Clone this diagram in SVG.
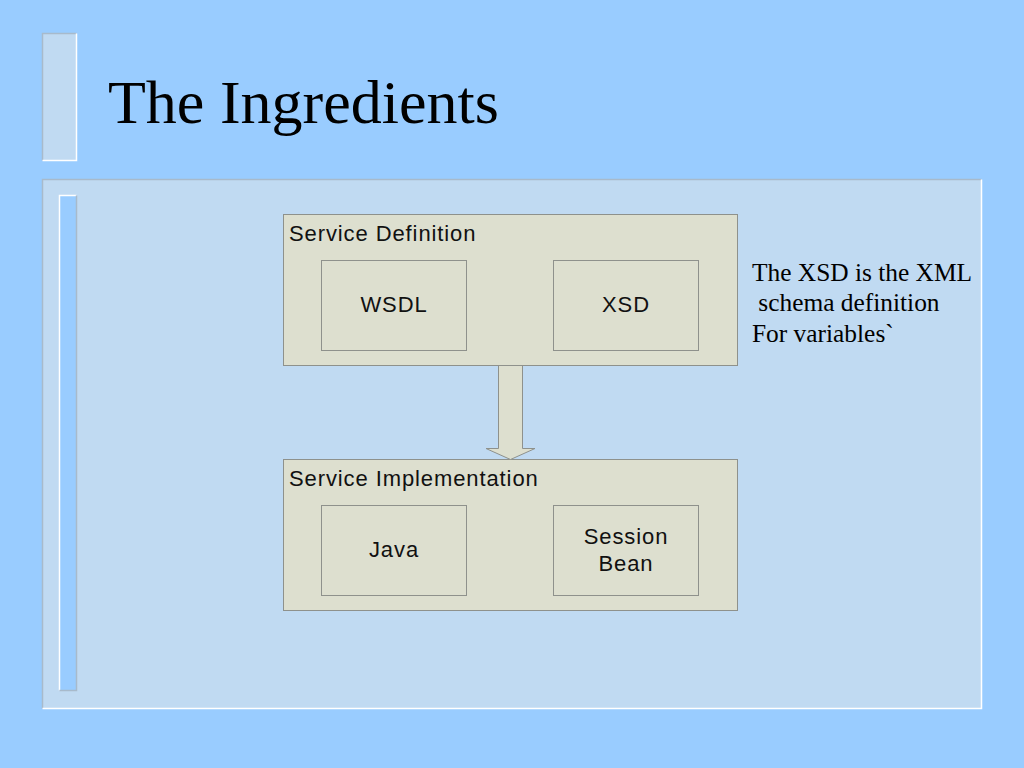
<svg xmlns="http://www.w3.org/2000/svg" width="1024" height="768" viewBox="0 0 1024 768">
  <style>
    .box { fill: #DDDFCF; stroke: #8E918C; stroke-width: 1; }
    .sans { font-family: "Liberation Sans", Arial, sans-serif; font-size: 22px; letter-spacing: 0.9px; fill: #111111; }
    .serif { font-family: "Liberation Serif", "Times New Roman", serif; fill: #000000; }
    .note { font-size: 25.4px; }
    .mid { text-anchor: middle; }
  </style>
  <rect x="0" y="0" width="1024" height="768" fill="#99CCFF"/>
  <!-- title bar decoration -->
  <rect x="42.5" y="33.5" width="34" height="127" fill="#C0DAF2"/>
  <polyline points="42.5,160.5 42.5,33.5 76.5,33.5" fill="none" stroke="#A8BACB" stroke-width="1.5"/>
  <polyline points="76.5,33.5 76.5,160.5 42.5,160.5" fill="none" stroke="#FFFFFF" stroke-width="1.5"/>
  <!-- main panel -->
  <rect x="42.5" y="179.5" width="939" height="529" fill="#C0DAF2"/>
  <polyline points="42.5,708.5 42.5,179.5 981.5,179.5" fill="none" stroke="#A8BACB" stroke-width="1.5"/>
  <polyline points="981.5,179.5 981.5,708.5 42.5,708.5" fill="none" stroke="#FFFFFF" stroke-width="1.5"/>
  <!-- inner bar -->
  <rect x="59.5" y="195.5" width="17" height="495" fill="#99CCFF"/>
  <polyline points="59.5,690.5 59.5,195.5 76.5,195.5" fill="none" stroke="#FFFFFF" stroke-width="1.5"/>
  <polyline points="76.5,195.5 76.5,690.5 59.5,690.5" fill="none" stroke="#A8BACB" stroke-width="1.5"/>

  <text x="108" y="123" class="serif" font-size="62">The Ingredients</text>

  <g id="service-definition">
    <rect class="box" x="283.5" y="214.5" width="454" height="151"/>
    <text class="sans" x="289" y="241">Service Definition</text>
  </g>
  <g id="wsdl">
    <rect class="box" x="321.5" y="260.5" width="145" height="90"/>
    <text class="sans mid" x="394" y="312">WSDL</text>
  </g>
  <g id="xsd">
    <rect class="box" x="553.5" y="260.5" width="145" height="90"/>
    <text class="sans mid" x="626" y="312">XSD</text>
  </g>

  <g id="service-implementation">
    <rect class="box" x="283.5" y="459.5" width="454" height="151"/>
    <text class="sans" x="289" y="486">Service Implementation</text>
  </g>
  <g id="java">
    <rect class="box" x="321.5" y="505.5" width="145" height="90"/>
    <text class="sans mid" x="394" y="557">Java</text>
  </g>
  <g id="session-bean">
    <rect class="box" x="553.5" y="505.5" width="145" height="90"/>
    <text class="sans mid" x="626" y="544">Session</text>
    <text class="sans mid" x="626" y="571">Bean</text>
  </g>

  <g id="connectors">
    <path class="box" d="M498.5,366 L498.5,448.5 L486,448.5 L510.5,459.5 L535,448.5 L522.5,448.5 L522.5,366"/>
  </g>

  <g id="note">
    <text class="serif note" x="752" y="281">The XSD is the XML</text>
    <text class="serif note" x="752" y="311" xml:space="preserve"> schema definition</text>
    <text class="serif note" x="752" y="342">For variables`</text>
  </g>
</svg>
